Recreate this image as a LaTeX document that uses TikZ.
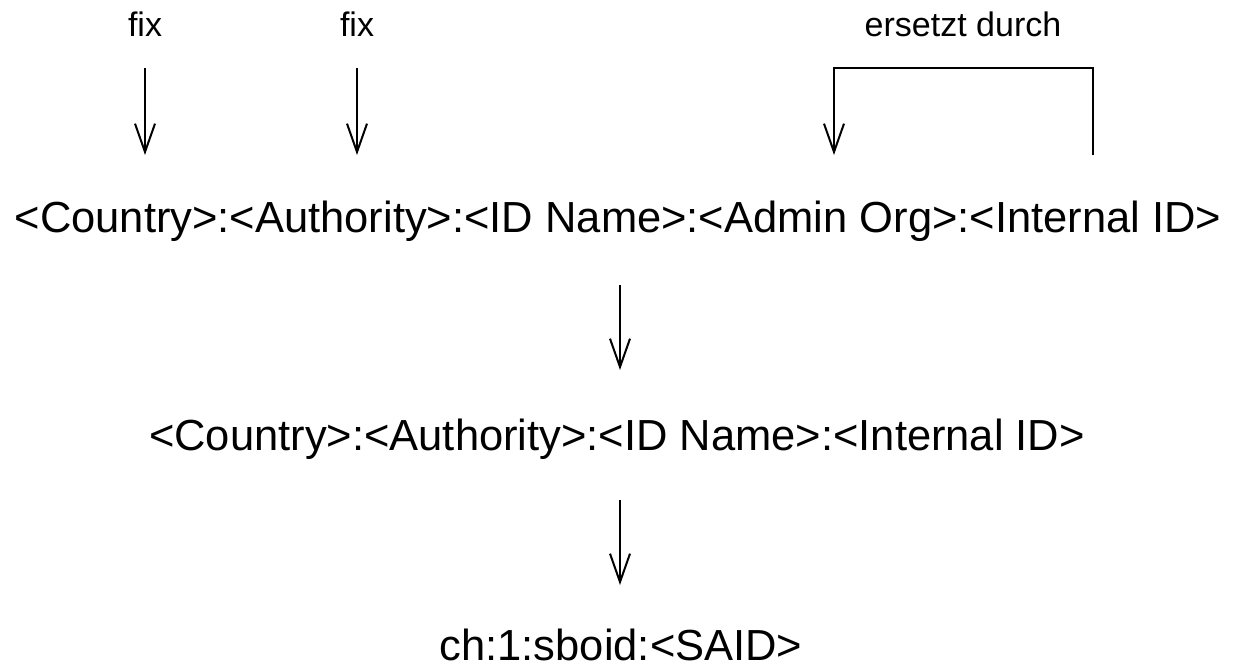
\documentclass[tikz,border=0pt]{standalone}
\usepackage{fontspec}
\setmainfont{Liberation Sans}
\usetikzlibrary{arrows.meta}
\begin{document}
\begin{tikzpicture}[x=0.6pt,y=-0.6pt,
  big/.style={inner sep=0pt,anchor=base,font=\fontsize{26.1pt}{30pt}\selectfont},
  small/.style={inner sep=0pt,anchor=base,font=\fontsize{20.4pt}{24pt}\selectfont},
  conn/.style={line width=1.2pt,-{Straight Barb[length=17pt,width=12pt,line width=1.2pt]}},
  plain/.style={line width=1.2pt}]
\useasboundingbox (0,0) rectangle (1244,669);
\node[small] (fix1) at (145,37) {fix};
\node[small] (fix2) at (357,37) {fix};
\node[small] (ers) at (963,37) {ersetzt durch};
\node[big] (l1) at (618,233) {<Country>:<Authority>:<ID Name>:<Admin Org>:<Internal ID>};
\node[big] (l2) at (617,451) {<Country>:<Authority>:<ID Name>:<Internal ID>};
\node[big] (l3) at (621,660) {ch:1:sboid:<SAID>};
\coordinate (a1s) at (145,68); \coordinate (a1e) at (145,155);
\coordinate (a2s) at (357,68); \coordinate (a2e) at (357,155);
\coordinate (rs) at (1093,155); \coordinate (re) at (834,155);
\coordinate (c1s) at (620,285); \coordinate (c1e) at (620,370);
\coordinate (c2s) at (620,500); \coordinate (c2e) at (620,585);
\draw[conn] (a1s) -- (a1e);
\draw[conn] (a2s) -- (a2e);
\draw[conn] (rs) -- ++(0,-87) -| (re);
\draw[conn] (c1s) -- (c1e);
\draw[conn] (c2s) -- (c2e);
\end{tikzpicture}
\end{document}
